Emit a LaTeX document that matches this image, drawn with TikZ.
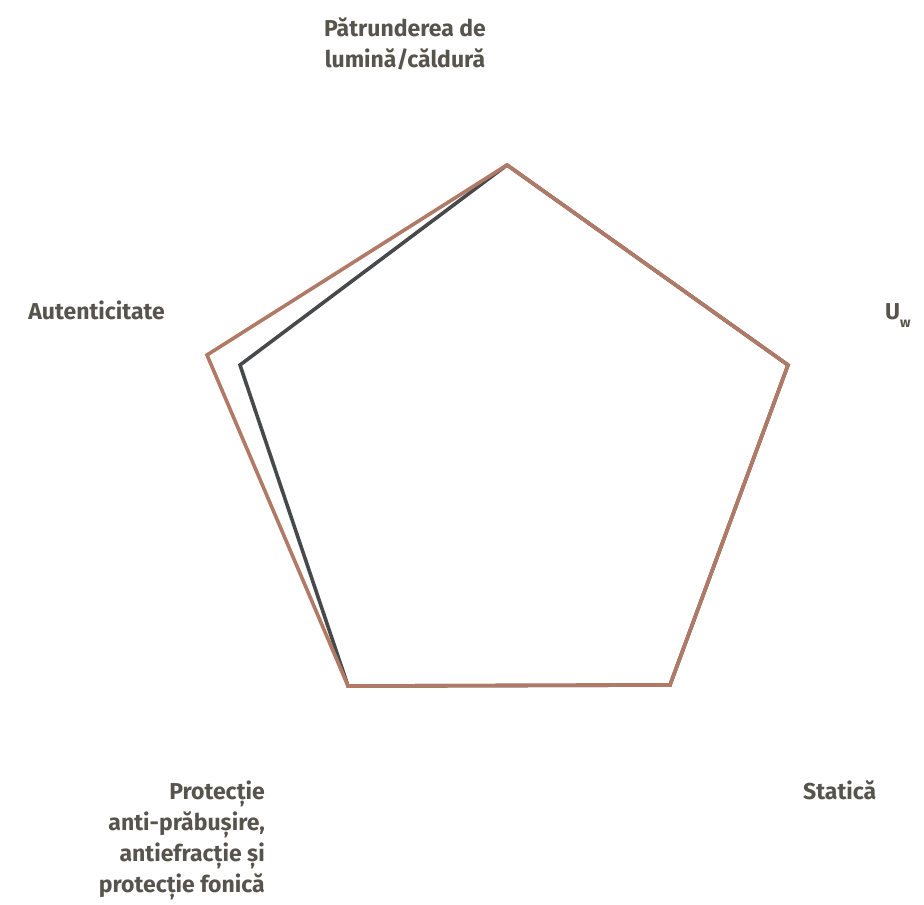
\documentclass[tikz,border=0pt]{standalone}
\usepackage{fontspec}
\setmainfont{Fira Sans}
\usepackage{tikz}
\usetikzlibrary{positioning}
\definecolor{txtgray}{RGB}{86,84,76}
\definecolor{linegray}{RGB}{72,73,74}
\definecolor{linebrown}{RGB}{176,122,102}
\tikzstyle{axlabel} = [inner sep = 0pt, text = txtgray, font = \fontsize{23}{31}\selectfont\bfseries]
\tikzstyle{vtx} = [coordinate]
\tikzstyle{poly} = [draw, line width = 3.6pt, line join = miter]

\begin{document}
\begin{tikzpicture}[x=1pt, y=-1pt]
			\useasboundingbox (0,0) rectangle (924,905);
			% axis labels
			\node [axlabel, align=center, anchor=base] (light) at (405,67) {Pătrunderea de\\lumină/căldură};
			\node [axlabel, anchor=base west] (uw) at (885,319) {U\raisebox{-0.35em}{\fontsize{14}{14}\selectfont w}};
			\node [axlabel, anchor=base west] (static) at (803,799) {Statică};
			\node [axlabel, align=right, anchor=base east] (prot) at (265,892) {Protecție\\anti-prăbușire,\\antiefracție și\\protecție fonică};
			\node [axlabel, anchor=base east] (auth) at (165,319) {Autenticitate};
			
			% chart vertices
			\node [vtx] (top) at (507,165) {};
			\node [vtx] (right) at (788,365) {};
			\node [vtx] (bright) at (670,685) {};
			\node [vtx] (bleft) at (348,686) {};
			\node [vtx] (lgray) at (240,365) {};
			\node [vtx] (lbrown) at (207,355) {};
			
			\path [poly, linegray] (top) -- (right) -- (bright) -- (bleft) -- (lgray) -- cycle;
			\path [poly, linebrown] (top) -- (right) -- (bright) -- (bleft) -- (lbrown) -- cycle;
		\end{tikzpicture}
\end{document}
